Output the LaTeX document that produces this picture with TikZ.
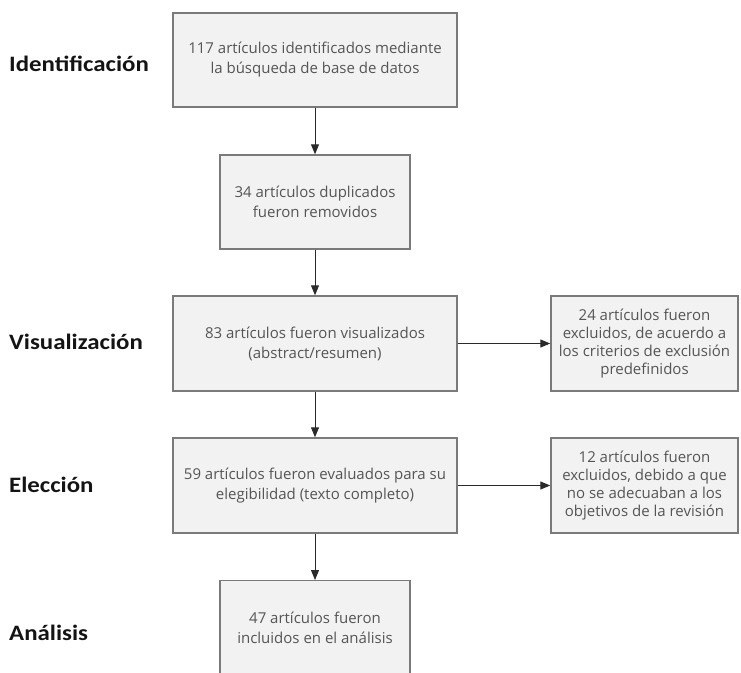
\documentclass[tikz,border=0pt]{standalone}
\usepackage{fontspec}
\usepackage{graphicx}
\setmainfont{Open Sans}
\newfontfamily\labelfont{Carlito}
\usetikzlibrary{arrows.meta}
\definecolor{boxfill}{HTML}{F2F2F2}
\definecolor{boxline}{HTML}{7A7A7A}
\definecolor{boxtext}{HTML}{555555}
\definecolor{arrowcol}{HTML}{2A2A2A}
\definecolor{labeltext}{HTML}{141414}
\begin{document}
\begin{tikzpicture}[x=1pt,y=-1pt,
  flowbox/.style={draw=boxline,line width=1.4pt,fill=boxfill,text=boxtext,
    font=\fontsize{15}{20}\selectfont,align=center,inner sep=0pt},
  sidebox/.style={flowbox,font=\fontsize{15}{18}\selectfont},
  stagelabel/.style={anchor=west,font=\labelfont\bfseries\fontsize{22}{24}\selectfont,text=labeltext,inner sep=0pt},
  flowarrow/.style={draw=arrowcol,line width=1pt,-{Triangle[length=10pt,width=8pt]}}]
\useasboundingbox (0,0) rectangle (741,672);
\clip (0,0) rectangle (741,672);
\node[flowbox,minimum width=284pt,minimum height=94pt] (b1) at (315,60)
  {117 artículos identificados mediante\\la búsqueda de base de datos};
\node[flowbox,minimum width=190pt,minimum height=94pt] (b2) at (315,202)
  {34 artículos duplicados\\fueron removidos};
\node[flowbox,minimum width=284pt,minimum height=95pt] (b3) at (315,343.5)
  {83 artículos fueron visualizados\\(abstract/resumen)};
\node[sidebox,minimum width=187pt,minimum height=95pt] (s3) at (644.5,343.5)
  {24 artículos fueron\\excluidos, de acuerdo a\\los criterios de exclusión\\predefinidos};
\node[flowbox,minimum width=284pt,minimum height=95pt] (b4) at (315,485.5)
  {59 artículos fueron evaluados para su\\elegibilidad (texto completo)};
\node[sidebox,minimum width=187pt,minimum height=95pt] (s4) at (644.5,485.5)
  {12 artículos fueron\\excluidos, debido a que\\no se adecuaban a los\\objetivos de la revisión};
\node[flowbox,minimum width=190pt,minimum height=100pt,anchor=north] (b5) at (315,580)
  {};
\node[text=boxtext,font=\fontsize{15}{20}\selectfont,align=center,inner sep=0pt] (t5) at (315,628)
  {47 artículos fueron\\incluidos en el análisis};
\draw[flowarrow] (b1) -- (b2);
\draw[flowarrow] (b2) -- (b3);
\draw[flowarrow] (b3) -- (s3);
\draw[flowarrow] (b3) -- (b4);
\draw[flowarrow] (b4) -- (s4);
\draw[flowarrow] (b4) -- (b5);
\node[stagelabel] (l1) at (9,64) {\scalebox{1.13}[1]{Identificación}};
\node[stagelabel] (l2) at (9,342) {\scalebox{1.13}[1]{Visualización}};
\node[stagelabel] (l3) at (9,485) {\scalebox{1.13}[1]{Elección}};
\node[stagelabel] (l4) at (9,633) {\scalebox{1.13}[1]{Análisis}};
\end{tikzpicture}
\end{document}
